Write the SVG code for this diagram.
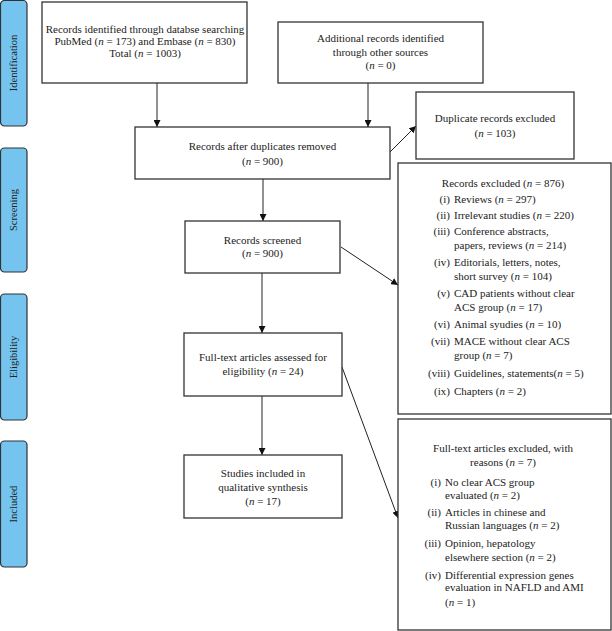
<svg xmlns="http://www.w3.org/2000/svg" width="612" height="631" viewBox="0 0 612 631">
<defs>
<style>
.box{fill:#fff;stroke:#333;stroke-width:1.3}
.side{fill:#74c4ef;stroke:#333;stroke-width:1.2}
text{font-family:"Liberation Serif","Times New Roman",serif;font-size:11px;fill:#222}
.c{text-anchor:middle}
.r{text-anchor:end}
.st{font-size:10.5px}
.i{font-style:italic}
.ln{stroke:#222;stroke-width:1;fill:none}
</style>
<marker id="ah" viewBox="0 0 10 10" refX="10" refY="5" markerWidth="7" markerHeight="7" markerUnits="userSpaceOnUse" orient="auto">
<path d="M0,0 L10,5 L0,10 z" fill="#111"/>
</marker>
</defs>
<rect width="612" height="631" fill="#fff"/>

<g id="stage-identification">
<rect class="side" x="0.5" y="0.5" width="26.5" height="125.5" rx="4"/>
<text class="c st" transform="translate(17,63) rotate(-90)">Identification</text>
</g>
<g id="stage-screening">
<rect class="side" x="0.5" y="148" width="26.5" height="124" rx="4"/>
<text class="c st" transform="translate(17,210) rotate(-90)">Screening</text>
</g>
<g id="stage-eligibility">
<rect class="side" x="0.5" y="294" width="26.5" height="126" rx="4"/>
<text class="c st" transform="translate(17,357) rotate(-90)">Eligibility</text>
</g>
<g id="stage-included">
<rect class="side" x="0.5" y="441" width="26.5" height="126" rx="4"/>
<text class="c st" transform="translate(17,504) rotate(-90)">Included</text>
</g>

<g id="connectors">
<line class="ln" x1="157" y1="83" x2="157" y2="127" marker-end="url(#ah)"/>
<line class="ln" x1="368" y1="83" x2="368" y2="127" marker-end="url(#ah)"/>
<line class="ln" x1="263" y1="179" x2="263" y2="221" marker-end="url(#ah)"/>
<line class="ln" x1="390" y1="152" x2="416" y2="126" marker-end="url(#ah)"/>
<line class="ln" x1="262" y1="273" x2="262" y2="333" marker-end="url(#ah)"/>
<line class="ln" x1="341" y1="247" x2="398" y2="285" marker-end="url(#ah)"/>
<line class="ln" x1="262" y1="396" x2="262" y2="455" marker-end="url(#ah)"/>
<line class="ln" x1="342" y1="367" x2="398" y2="518" marker-end="url(#ah)"/>
</g>

<g id="identified-db">
<rect class="box" x="42" y="2" width="205" height="81"/>
<text class="c" x="145" y="33">Records identified through databse searching</text>
<text class="c" x="145" y="45">PubMed (<tspan class="i">n</tspan> = 173) and Embase (<tspan class="i">n</tspan> = 830)</text>
<text class="c" x="145" y="57">Total (<tspan class="i">n</tspan> = 1003)</text>
</g>

<g id="identified-other">
<rect class="box" x="278" y="22" width="205" height="61"/>
<text class="c" x="380.5" y="42">Additional records identified</text>
<text class="c" x="380.5" y="56">through other sources</text>
<text class="c" x="380.5" y="69">(<tspan class="i">n</tspan> = 0)</text>
</g>

<g id="after-duplicates">
<rect class="box" x="135" y="127" width="255" height="52"/>
<text class="c" x="262.5" y="150">Records after duplicates removed</text>
<text class="c" x="262.5" y="165">(<tspan class="i">n</tspan> = 900)</text>
</g>

<g id="duplicates-excluded">
<rect class="box" x="416" y="92" width="158" height="67"/>
<text class="c" x="495" y="122">Duplicate records excluded</text>
<text class="c" x="495" y="137">(<tspan class="i">n</tspan> = 103)</text>
</g>

<g id="screened">
<rect class="box" x="185" y="221" width="155" height="52"/>
<text class="c" x="262.5" y="244">Records screened</text>
<text class="c" x="262.5" y="257">(<tspan class="i">n</tspan> = 900)</text>
</g>

<g id="records-excluded">
<rect class="box" x="398" y="163" width="213" height="251"/>
<text class="c" x="503" y="187">Records excluded (<tspan class="i">n</tspan> = 876)</text>
<text class="r" x="450" y="203">(i)</text><text x="454" y="203">Reviews (<tspan class="i">n</tspan> = 297)</text>
<text class="r" x="450" y="219">(ii)</text><text x="454" y="219">Irrelevant studies (<tspan class="i">n</tspan> = 220)</text>
<text class="r" x="450" y="235">(iii)</text><text x="454" y="235">Conference abstracts,</text>
<text x="454" y="249">papers, reviews (<tspan class="i">n</tspan> = 214)</text>
<text class="r" x="450" y="266">(iv)</text><text x="454" y="266">Editorials, letters, notes,</text>
<text x="454" y="280">short survey (<tspan class="i">n</tspan> = 104)</text>
<text class="r" x="450" y="297">(v)</text><text x="454" y="297">CAD patients without clear</text>
<text x="454" y="311">ACS group (<tspan class="i">n</tspan> = 17)</text>
<text class="r" x="450" y="328">(vi)</text><text x="454" y="328">Animal syudies (<tspan class="i">n</tspan> = 10)</text>
<text class="r" x="450" y="345">(vii)</text><text x="454" y="345">MACE without clear ACS</text>
<text x="454" y="359">group (<tspan class="i">n</tspan> = 7)</text>
<text class="r" x="450" y="377">(viii)</text><text x="454" y="377">Guidelines, statements(<tspan class="i">n</tspan> = 5)</text>
<text class="r" x="450" y="395">(ix)</text><text x="454" y="395">Chapters (<tspan class="i">n</tspan> = 2)</text>
</g>

<g id="fulltext-assessed">
<rect class="box" x="184" y="333" width="158" height="63"/>
<text class="c" x="263" y="361">Full-text articles assessed for</text>
<text class="c" x="263" y="375">eligibility (<tspan class="i">n</tspan> = 24)</text>
</g>

<g id="studies-included">
<rect class="box" x="184" y="455" width="158" height="63"/>
<text class="c" x="263" y="477">Studies included in</text>
<text class="c" x="263" y="491">qualitative synthesis</text>
<text class="c" x="263" y="505">(<tspan class="i">n</tspan> = 17)</text>
</g>

<g id="fulltext-excluded">
<rect class="box" x="398" y="419" width="213" height="211"/>
<text class="c" x="503" y="452">Full-text articles excluded, with</text>
<text class="c" x="503" y="466">reasons (<tspan class="i">n</tspan> = 7)</text>
<text class="r" x="441" y="486">(i)</text><text x="445" y="486">No clear ACS group</text>
<text x="445" y="499">evaluated (<tspan class="i">n</tspan> = 2)</text>
<text class="r" x="441" y="516">(ii)</text><text x="445" y="516">Articles in chinese and</text>
<text x="445" y="529">Russian languages (<tspan class="i">n</tspan> = 2)</text>
<text class="r" x="441" y="547">(iii)</text><text x="445" y="547">Opinion, hepatology</text>
<text x="445" y="561">elsewhere section (<tspan class="i">n</tspan> = 2)</text>
<text class="r" x="441" y="579">(iv)</text><text x="445" y="579">Differential expression genes</text>
<text x="445" y="591">evaluation in NAFLD and AMI</text>
<text x="445" y="606">(<tspan class="i">n</tspan> = 1)</text>
</g>
</svg>
